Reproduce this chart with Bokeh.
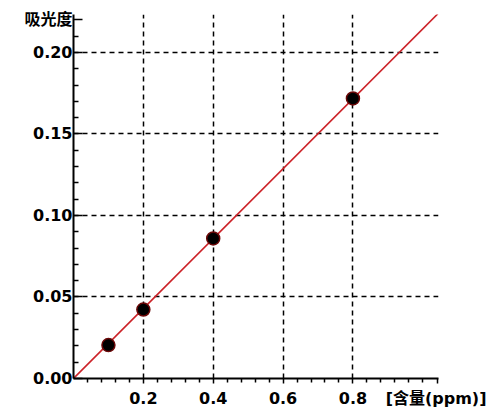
import numpy as np
from bokeh.plotting import figure
from bokeh.models import FixedTicker, Range1d
from bokeh.embed import file_html
from bokeh.resources import INLINE

# Data
conc = [0.1, 0.2, 0.4, 0.8]                    # 含量 (ppm)
absorb = [0.0205, 0.0423, 0.0859, 0.1718]      # 吸光度
x_title = "[含量(ppm)]"
y_title = "吸光度"
x_ticks = [0.2, 0.4, 0.6, 0.8]
x_tick_labels = ["0.2", "0.4", "0.6", "0.8"]
y_ticks = [0.0, 0.05, 0.10, 0.15, 0.20]
y_tick_labels = ["0.00", "0.05", "0.10", "0.15", "0.20"]
x_minor = [0.04, 0.08, 0.12, 0.16, 0.24, 0.28, 0.32, 0.36, 0.44, 0.48, 0.52, 0.56,
           0.64, 0.68, 0.72, 0.76, 0.84, 0.88, 0.92, 0.96, 1.0]
y_minor = [0.01, 0.02, 0.03, 0.04, 0.06, 0.07, 0.08, 0.09, 0.11, 0.12, 0.13, 0.14,
           0.16, 0.17, 0.18, 0.19, 0.21]
x_max = 1.045
y_max = 0.2233
x_title_pos = 1.0415   # axis titles sit at the far ends of the axes
y_title_pos = 0.2202

# least-squares line through origin
xa = np.array(conc)
ya = np.array(absorb)
slope = float((xa * ya).sum() / (xa * xa).sum())
fit_x = [0.0, x_max]
fit_y = [0.0, slope * x_max]

p = figure(width=486, height=410, output_backend="svg", toolbar_location=None,
           x_range=Range1d(0, x_max), y_range=Range1d(0, y_max),
           min_border_left=73, min_border_right=48, min_border_top=14, min_border_bottom=32)
p.outline_line_color = None
p.background_fill_color = "white"
p.border_fill_color = "white"

# grid
for g in (p.xgrid, p.ygrid):
    g.grid_line_color = "black"
    g.grid_line_dash = "5 4"
    g.grid_line_width = 1.5
p.xgrid.ticker = FixedTicker(ticks=x_ticks)
p.ygrid.ticker = FixedTicker(ticks=[0.05, 0.10, 0.15, 0.20])

# axes (axis titles carried as end-of-axis labels)
xa_ = p.xaxis[0]
xa_.ticker = FixedTicker(ticks=x_ticks + [x_title_pos], minor_ticks=x_minor)
xo = {t: l for t, l in zip(x_ticks, x_tick_labels)}
xo[x_title_pos] = x_title
xa_.major_label_overrides = xo
xa_.major_tick_in = 0
xa_.major_tick_out = 5
xa_.minor_tick_in = 0
xa_.minor_tick_out = 4
xa_.major_label_standoff = 5

ya_ = p.yaxis[0]
ya_.ticker = FixedTicker(ticks=y_ticks + [y_title_pos], minor_ticks=y_minor)
yo = {t: l for t, l in zip(y_ticks, y_tick_labels)}
yo[y_title_pos] = y_title
ya_.major_label_overrides = yo
ya_.major_tick_in = 9
ya_.major_tick_out = 0
ya_.minor_tick_in = 5
ya_.minor_tick_out = 0
ya_.major_label_standoff = 1

for ax in (xa_, ya_):
    ax.axis_line_width = 2
    ax.axis_line_color = "black"
    ax.major_tick_line_color = "black"
    ax.minor_tick_line_color = "black"
    ax.major_tick_line_width = 1.5
    ax.minor_tick_line_width = 1.5
    ax.major_label_text_font = "DejaVu Sans, Noto Sans CJK SC"
    ax.major_label_text_font_style = "bold"
    ax.major_label_text_font_size = "16px"
    ax.major_label_text_color = "black"

# fitted line and points
p.line(fit_x, fit_y, line_color="#cc2228", line_width=1.6)
p.scatter(conc, absorb, size=13, fill_color="black", line_color="#6a0808", line_width=1.5)

open("out.html", "w").write(file_html(p, INLINE))
